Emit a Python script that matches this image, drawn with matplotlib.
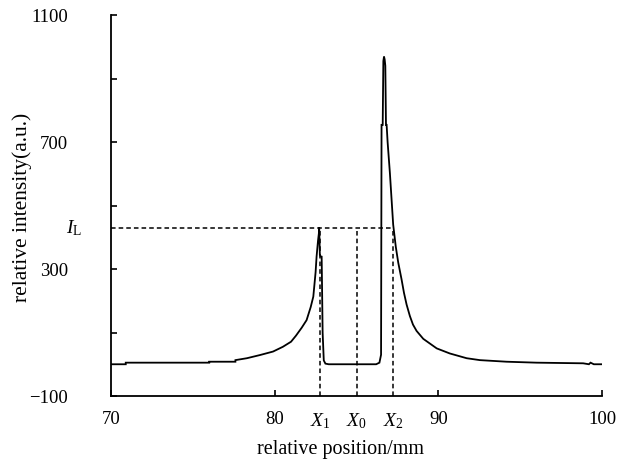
import matplotlib
matplotlib.use("Agg")
import matplotlib.pyplot as plt

plt.rcParams['font.family'] = ['Liberation Serif', 'DejaVu Serif']
plt.rcParams['mathtext.fontset'] = 'custom'
plt.rcParams['mathtext.rm'] = 'Liberation Serif'
plt.rcParams['mathtext.it'] = 'Liberation Serif:italic'

# Intensity profile
position = [70.0, 70.9, 70.9, 76.0, 76.0, 77.6, 77.6, 78.3, 79.1, 79.9, 80.5,
            81.0, 81.3, 81.65, 81.95, 82.2, 82.36, 82.5, 82.56, 82.65, 82.7,
            82.72, 82.76, 82.8, 82.87, 82.93, 83.0, 83.1, 83.3, 86.2, 86.4,
            86.5, 86.53, 86.6, 86.64, 86.68, 86.72, 86.76, 86.8, 86.84, 86.9,
            87.04, 87.24, 87.4, 87.55, 87.75, 87.9, 88.06, 88.26, 88.45,
            88.67, 89.08, 89.9, 90.7, 91.73, 92.54, 94.17, 96.0, 98.85, 99.2,
            99.3, 99.5, 100.0]
intensity = [0, 0, 5, 5, 8, 8, 13, 19, 29, 40, 55,
             71, 90, 115, 139, 180, 213, 290, 339, 390, 412,
             431, 345, 340, 339, 100, 12, 2, 0, 0, 5,
             30, 754, 754, 955, 969, 960, 940, 754, 754, 700,
             602, 440, 370, 320, 268, 225, 188, 152, 125,
             105, 80, 50, 34, 19, 13, 8, 5, 3, 0,
             5, 0, 0]

# Reference markers
IL = 430
x_marks = [82.77, 85.0, 87.24]
x_mark_labels = [r'$X_1$', r'$X_0$', r'$X_2$']

xticks = [70, 80, 90, 100]
yticks_major = [-100, 300, 700, 1100]
yticks_minor = [100, 500, 900]

fig = plt.figure(figsize=(6.23, 4.66), dpi=100)
ax = fig.add_axes([0.1782, 0.1502, 0.7881, 0.8176])

ax.plot(position, intensity, color='black', lw=1.3, solid_joinstyle='miter')

dash = (0, (3, 2))
ax.plot([70, x_marks[2]], [IL, IL], color='black', lw=1.1, linestyle=dash)
for xm in x_marks:
    ax.plot([xm, xm], [-100, IL], color='black', lw=1.1, linestyle=dash)

ax.set_xlim(70, 100)
ax.set_ylim(-100, 1100)

for s in ['top', 'right']:
    ax.spines[s].set_visible(False)
for s in ['left', 'bottom']:
    ax.spines[s].set_linewidth(1.3)

ax.set_xticks(xticks)
ax.set_xticklabels([str(v) for v in xticks])
ax.set_xticks(x_marks, minor=True)
ax.set_xticklabels(x_mark_labels, minor=True)
ax.tick_params(axis='x', which='major', direction='in', length=4, width=1.2,
               pad=11, labelsize=13.5)
ax.tick_params(axis='x', which='minor', length=0, pad=11, labelsize=14)

ax.set_yticks(yticks_major)
ax.set_yticklabels(['\u2212100', '300', '700', '1100'])
ax.set_yticks(yticks_minor, minor=True)
ax.tick_params(axis='y', which='both', direction='in', length=4, width=1.2,
               pad=31, labelsize=13.5)

ax.text(-0.075, IL, r'$I_{\rm L}$', transform=ax.get_yaxis_transform(),
        ha='center', va='center', fontsize=14)

ax.set_xlabel('relative position/mm', fontsize=14.5)
ax.xaxis.set_label_coords(0.468, -0.115)
ax.set_ylabel('relative intensity(a.u.)', fontsize=15.5)
ax.yaxis.set_label_coords(-0.16, 0.496)

fig.savefig('out.png', dpi=100)
